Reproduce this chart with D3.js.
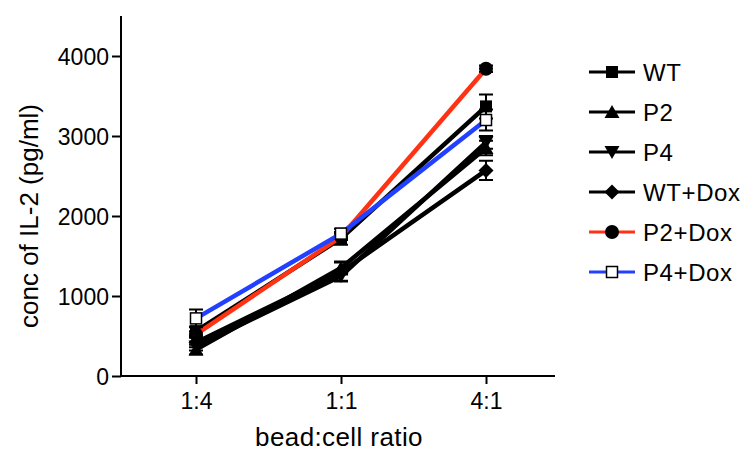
<!DOCTYPE html>
<html>
<head>
<meta charset="utf-8">
<script src="https://cdn.jsdelivr.net/npm/d3@7"></script>
<style>
  body { margin: 0; background: #fff; }
  svg text { font-family: "Liberation Sans", Arial, sans-serif; fill: #000; }
</style>
</head>
<body>
<div id="chart"></div>
<script>
// data
var ratios = ["1:4", "1:1", "4:1"];
var seriesNames = ["WT", "P2", "P4", "WT+Dox", "P2+Dox", "P4+Dox"];
var wt      = [560, 1720, 3370];
var p2      = [330, 1350, 2850];
var p4      = [370, 1250, 2920];
var wtDox   = [420, 1300, 2570];
var p2Dox   = [520, 1740, 3840];
var p4Dox   = [720, 1780, 3200];
var wtErr    = [60, 80, 150];
var p2Err    = [60, 80, 90];
var p4Err    = [50, 60, 80];
var wtDoxErr = [60, 120, 120];
var p2DoxErr = [40, 40, 40];
var p4DoxErr = [110, 60, 130];
var yTicks = [0, 1000, 2000, 3000, 4000];

var colors = ["#000", "#000", "#000", "#000", "#ff3314", "#2140ff"];
var shapes = ["square", "up", "down", "diamond", "circle", "open"];
var values = [wt, p2, p4, wtDox, p2Dox, p4Dox];
var errors = [wtErr, p2Err, p4Err, wtDoxErr, p2DoxErr, p4DoxErr];

var svg = d3.select("#chart").append("svg")
    .attr("width", 747)
    .attr("height", 452);

//scales
var yScale = d3.scaleLinear().domain([0, 4500]).range([376, 16]);
var xScale = d3.scalePoint().domain(ratios).range([196, 486]);

//axes
var yAxis = d3.axisLeft(yScale).tickValues(yTicks).tickSize(9).tickPadding(3).tickFormat(d3.format("d"));
var xAxis = d3.axisBottom(xScale).tickSize(8).tickPadding(9);

var gy = svg.append("g").attr("transform", "translate(121,0)").call(yAxis);
gy.select(".domain").attr("d", "M0,16V376");
var gx = svg.append("g").attr("transform", "translate(0,376)").call(xAxis);
gx.select(".domain").attr("d", "M121,0H555");

svg.selectAll(".domain, .tick line").attr("stroke", "#000").attr("stroke-width", 2);
svg.selectAll(".tick text").style("font-size", "23px");
gy.selectAll(".tick text").attr("dy", "0.36em");

svg.append("text")
    .attr("transform", "translate(38,216) rotate(-90)")
    .attr("text-anchor", "middle")
    .style("font-size", "26px")
    .text("conc of IL-2 (pg/ml)");

svg.append("text")
    .attr("x", 339).attr("y", 446)
    .attr("text-anchor", "middle")
    .style("font-size", "26px")
    .style("letter-spacing", "0.4px")
    .text("bead:cell ratio");

function drawMarker(g, shape, color, x, y) {
    if (shape == "square") {
        g.append("rect").attr("x", x - 6).attr("y", y - 6).attr("width", 12).attr("height", 12).attr("fill", color);
    } else if (shape == "open") {
        g.append("rect").attr("x", x - 5.5).attr("y", y - 5.5).attr("width", 11).attr("height", 11)
            .attr("fill", "#fff").attr("stroke", "#000").attr("stroke-width", 1.5);
    } else if (shape == "circle") {
        g.append("circle").attr("cx", x).attr("cy", y).attr("r", 7).attr("fill", color);
    } else if (shape == "up") {
        g.append("path").attr("d", "M" + x + "," + (y - 7) + "L" + (x + 7.5) + "," + (y + 6) + "L" + (x - 7.5) + "," + (y + 6) + "Z").attr("fill", color);
    } else if (shape == "down") {
        g.append("path").attr("d", "M" + x + "," + (y + 7) + "L" + (x + 7.5) + "," + (y - 6) + "L" + (x - 7.5) + "," + (y - 6) + "Z").attr("fill", color);
    } else if (shape == "diamond") {
        g.append("path").attr("d", "M" + x + "," + (y - 7.5) + "L" + (x + 7.5) + "," + y + "L" + x + "," + (y + 7.5) + "L" + (x - 7.5) + "," + y + "Z").attr("fill", color);
    }
}

var line = d3.line()
    .x(function(d, i) { return xScale(ratios[i]); })
    .y(function(d) { return yScale(d); });

//series
values.forEach(function(vals, s) {
    var g = svg.append("g");
    //error bars
    vals.forEach(function(v, i) {
        var x = xScale(ratios[i]);
        var e = errors[s][i];
        g.append("path")
            .attr("d", "M" + x + "," + yScale(v - e) + "V" + yScale(v + e) +
                "M" + (x - 7) + "," + yScale(v - e) + "H" + (x + 7) +
                "M" + (x - 7) + "," + yScale(v + e) + "H" + (x + 7))
            .attr("stroke", "#000").attr("stroke-width", 2).attr("fill", "none");
    });
    g.append("path").datum(vals)
        .attr("d", line)
        .attr("fill", "none")
        .attr("stroke", colors[s])
        .attr("stroke-width", 4.5);
    vals.forEach(function(v, i) {
        drawMarker(g, shapes[s], "#000", xScale(ratios[i]), yScale(v));
    });
});

//legend
var legend = svg.append("g");
seriesNames.forEach(function(name, i) {
    var y = 72 + i * 40;
    legend.append("line")
        .attr("x1", 589).attr("x2", 635).attr("y1", y).attr("y2", y)
        .attr("stroke", colors[i]).attr("stroke-width", 3);
    drawMarker(legend, shapes[i], "#000", 612, y);
    legend.append("text")
        .attr("x", 643).attr("y", y + 8.5)
        .style("font-size", "24px")
        .style("letter-spacing", "0.6px")
        .text(name);
});
</script>
</body>
</html>
